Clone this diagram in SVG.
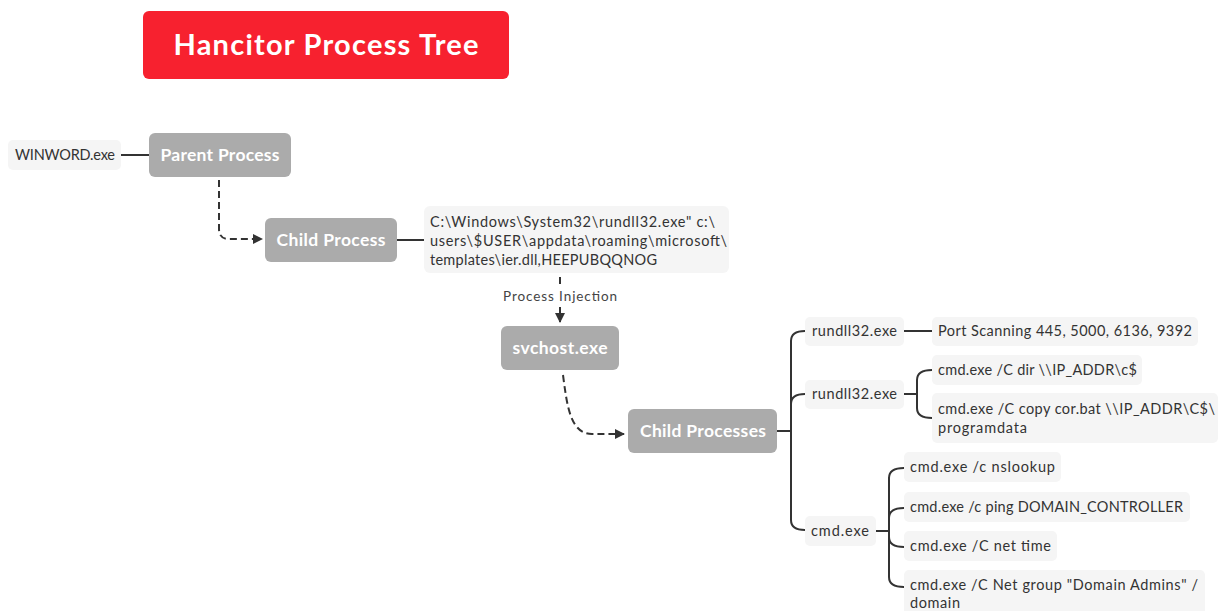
<svg xmlns="http://www.w3.org/2000/svg" width="1219" height="611" viewBox="0 0 1219 611">
<style>
.leaf{fill:#f5f5f5}
.proc{fill:#ababab}
.t{font-family:Lato,"Open Sans",sans-serif;font-size:14.5px;fill:#333}
.pt{font-family:Lato,"Open Sans",sans-serif;font-size:17.5px;font-weight:bold;fill:#fff;text-anchor:middle}
.c{fill:none;stroke:#333;stroke-width:2}
.d{fill:none;stroke:#333;stroke-width:2;stroke-dasharray:7 4}
</style>
<defs>
<marker id="arr" viewBox="0 0 10 10" refX="9" refY="5" markerWidth="5" markerHeight="5" orient="auto" markerUnits="strokeWidth">
<path d="M0,0 L10,5 L0,10 z" fill="#333"/>
</marker>
</defs>
<rect width="1219" height="611" fill="#fff"/>
<g id="title">
<rect x="143" y="11" width="366" height="68" rx="6" fill="#f7212f"/>
<text x="326" y="55" text-anchor="middle" textLength="305" lengthAdjust="spacing" style="font-family:Lato,'Open Sans',sans-serif;font-size:29px;font-weight:bold;fill:#fff">Hancitor Process Tree</text>
</g>
<g id="connectors">
<path class="c" d="M121,155 H149"/>
<path class="d" d="M219,180 V229 Q219,239 229,239 H262" marker-end="url(#arr)"/>
<path class="c" d="M397,240 H425"/>
<path class="d" d="M560,277 V285"/>
<path class="d" d="M560,307 V322" marker-end="url(#arr)"/>
<path class="d" d="M563,375 C567,405 570,434 592,434 H624" marker-end="url(#arr)"/>
<path class="c" d="M777,431 H791"/>
<path class="c" d="M805,331 Q791,331 791,341 V520 Q791,530 805,530"/>
<path class="c" d="M791,404 Q791,394 805,394"/>
<path class="c" d="M904,331 H932"/>
<path class="c" d="M904,394 H917"/>
<path class="c" d="M932,370 Q917,370 917,380 V408 Q917,418 932,418"/>
<path class="c" d="M876,531 H889"/>
<path class="c" d="M904,468 Q889,468 889,478 V577 Q889,587 904,587"/>
<path class="c" d="M889,518 Q889,508 904,508"/>
<path class="c" d="M889,537 Q889,547 904,547"/>
</g>
<g id="winword">
<rect class="leaf" x="8" y="140" width="113" height="30" rx="5"/>
<text class="t" x="15" y="160" textLength="100" lengthAdjust="spacing">WINWORD.exe</text>
</g>
<g id="parent">
<rect class="proc" x="149" y="133" width="142" height="44" rx="6"/>
<text class="pt" x="220" y="161" textLength="119" lengthAdjust="spacing">Parent Process</text>
</g>
<g id="child">
<rect class="proc" x="265" y="218" width="132" height="44" rx="6"/>
<text class="pt" x="331" y="246" textLength="109" lengthAdjust="spacing">Child Process</text>
</g>
<g id="cmdline">
<rect class="leaf" x="424" y="206" width="305" height="67" rx="6"/>
<text class="t" x="430" y="227" textLength="285" lengthAdjust="spacing">C:\Windows\System32\rundll32.exe" c:\</text>
<text class="t" x="430" y="246" textLength="297" lengthAdjust="spacing">users\$USER\appdata\roaming\microsoft\</text>
<text class="t" x="430" y="265" textLength="227" lengthAdjust="spacing">templates\ier.dll,HEEPUBQQNOG</text>
</g>
<g id="injection-label">
<text x="560" y="301" text-anchor="middle" textLength="114" lengthAdjust="spacing" style="font-family:Lato,'Open Sans',sans-serif;font-size:13.5px;fill:#444">Process Injection</text>
</g>
<g id="svchost">
<rect class="proc" x="501" y="326" width="118" height="44" rx="6"/>
<text class="pt" x="560" y="354" textLength="95" lengthAdjust="spacing">svchost.exe</text>
</g>
<g id="childprocs">
<rect class="proc" x="628" y="409" width="149" height="44" rx="6"/>
<text class="pt" x="703" y="437" textLength="126" lengthAdjust="spacing">Child Processes</text>
</g>
<g id="rundll1">
<rect class="leaf" x="805" y="317" width="99" height="29" rx="5"/>
<text class="t" x="812" y="336" textLength="85" lengthAdjust="spacing">rundll32.exe</text>
</g>
<g id="portscan">
<rect class="leaf" x="932" y="317" width="266" height="29" rx="5"/>
<text class="t" x="938" y="336" textLength="254" lengthAdjust="spacing">Port Scanning 445, 5000, 6136, 9392</text>
</g>
<g id="rundll2">
<rect class="leaf" x="805" y="380" width="99" height="29" rx="5"/>
<text class="t" x="812" y="399" textLength="85" lengthAdjust="spacing">rundll32.exe</text>
</g>
<g id="cmddir">
<rect class="leaf" x="932" y="355" width="210" height="30" rx="5"/>
<text class="t" x="938" y="375" textLength="199" lengthAdjust="spacing">cmd.exe /C dir \\IP_ADDR\c$</text>
</g>
<g id="cmdcopy">
<rect class="leaf" x="932" y="393" width="286" height="50" rx="5"/>
<text class="t" x="938" y="414" textLength="277" lengthAdjust="spacing">cmd.exe /C copy cor.bat \\IP_ADDR\C$\</text>
<text class="t" x="938" y="433" textLength="89" lengthAdjust="spacing">programdata</text>
</g>
<g id="cmd">
<rect class="leaf" x="805" y="516" width="71" height="30" rx="5"/>
<text class="t" x="811" y="536" textLength="58" lengthAdjust="spacing">cmd.exe</text>
</g>
<g id="nslookup">
<rect class="leaf" x="904" y="452" width="157" height="30" rx="5"/>
<text class="t" x="910" y="472" textLength="145" lengthAdjust="spacing">cmd.exe /c nslookup</text>
</g>
<g id="ping">
<rect class="leaf" x="904" y="492" width="286" height="30" rx="5"/>
<text class="t" x="910" y="512" textLength="273" lengthAdjust="spacing">cmd.exe /c ping DOMAIN_CONTROLLER</text>
</g>
<g id="nettime">
<rect class="leaf" x="904" y="531" width="153" height="30" rx="5"/>
<text class="t" x="910" y="551" textLength="141" lengthAdjust="spacing">cmd.exe /C net time</text>
</g>
<g id="netgroup">
<rect class="leaf" x="904" y="570" width="301" height="50" rx="5"/>
<text class="t" x="910" y="590" textLength="288" lengthAdjust="spacing">cmd.exe /C Net group "Domain Admins" /</text>
<text class="t" x="910" y="608" textLength="50" lengthAdjust="spacing">domain</text>
</g>
</svg>
